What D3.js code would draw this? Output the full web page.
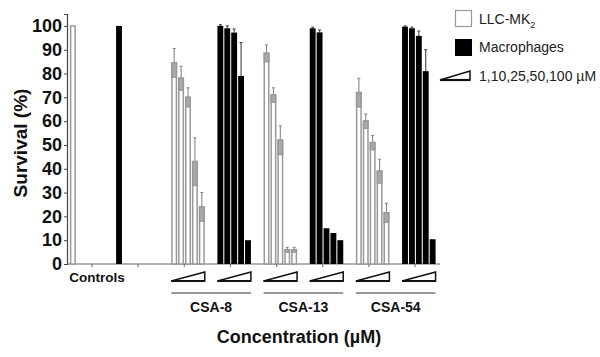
<!DOCTYPE html>
<html>
<head>
<meta charset="utf-8">
<script src="https://cdn.jsdelivr.net/npm/d3@7"></script>
<style>
  body { margin: 0; background: #fff; }
  text { font-family: "Liberation Sans", Arial, sans-serif; }
</style>
</head>
<body>
<div id="chart"></div>
<script>
// groups along the x axis, two cell types per group
const groups = ["Controls", "CSA-8", "CSA-13", "CSA-54"];
const cells = ["LLC-MK2", "Macrophages"];
const concentrations = [1, 10, 25, 50, 100];

// mean survival (%) per concentration, controls have one bar only
const llcMean = [[100], [84.5, 78, 70, 43, 24], [88.5, 71, 52, 6, 6], [72, 60, 51, 39, 21.5]];
const llcErr = [[0], [6, 5, 4, 10, 6], [3.5, 3, 6, 1, 1], [6, 3, 3, 5, 4]];
const macMean = [[100], [100, 99, 97.2, 79, 10], [99, 97.3, 15, 13, 10], [99.7, 99, 95.8, 81, 10.4]];
const macErr = [[0], [0.5, 1, 1.5, 14, 0], [0.5, 1, 0, 0, 0], [0.3, 0.5, 2, 9, 0]];

const yTicks = [0, 10, 20, 30, 40, 50, 60, 70, 80, 90, 100];

const width = 600, height = 357;
const svg = d3.select("#chart").append("svg")
    .attr("width", width)
    .attr("height", height);

// one slot per (group, cell)
let slots = [];
groups.forEach(function (g, gi) {
    slots.push({ key: g + "|llc", group: gi, type: "llc", mean: llcMean[gi], err: llcErr[gi] });
    slots.push({ key: g + "|mac", group: gi, type: "mac", mean: macMean[gi], err: macErr[gi] });
});

let xScale = d3.scaleBand()
    .domain(slots.map(d => d.key))
    .range([67, 440])
    .paddingOuter(0.04);
let sub = d3.scaleBand()
    .domain(d3.range(concentrations.length))
    .range([-13, 20.5])
    .paddingInner(0.15);
let yScale = d3.scaleLinear()
    .domain([0, 105])
    .range([264, 14]);

function center(key) { return xScale(key) + xScale.bandwidth() / 2; }
function barX(s, i) {
    // control bars sit further left under their tick
    return center(s.key) + sub(i) + (s.group === 0 ? -9 : 0);
}

// y axis
let yAxis = svg.append("g")
    .attr("transform", "translate(67,0)")
    .call(d3.axisLeft(yScale).tickValues(yTicks).tickSize(3).tickPadding(2));
yAxis.select(".domain").attr("stroke", "#444").attr("stroke-width", 1.2);
yAxis.selectAll(".tick line").attr("stroke", "#444");
yAxis.selectAll("text")
    .attr("font-size", 18)
    .attr("font-weight", "bold")
    .attr("fill", "#111");

// x axis
let xAxis = svg.append("g")
    .attr("transform", "translate(0,264)")
    .call(d3.axisBottom(xScale).tickSize(3).tickFormat(""));
xAxis.select(".domain").attr("stroke", "#666").attr("stroke-width", 1.2)
    .attr("d", "M67,0H440");
xAxis.selectAll(".tick line").attr("stroke", "#666");

// bars
slots.forEach(function (s) {
    let g = svg.append("g");
    let bars = s.mean.map((m, i) => ({ m: m, e: s.err[i], i: i }));
    let eb = bars.filter(d => d.e > 0);
    let col = s.type === "mac" ? "#444" : "#888";
    g.selectAll("line.err").data(eb).join("line")
        .attr("x1", d => barX(s, d.i) + sub.bandwidth() / 2)
        .attr("x2", d => barX(s, d.i) + sub.bandwidth() / 2)
        .attr("y1", d => yScale(d.m))
        .attr("y2", d => yScale(d.m + d.e))
        .attr("stroke", col).attr("stroke-width", 1.1);
    g.selectAll("line.cap").data(eb).join("line")
        .attr("x1", d => barX(s, d.i) + sub.bandwidth() / 2 - 1.5)
        .attr("x2", d => barX(s, d.i) + sub.bandwidth() / 2 + 1.5)
        .attr("y1", d => yScale(d.m + d.e))
        .attr("y2", d => yScale(d.m + d.e))
        .attr("stroke", col).attr("stroke-width", 1.1);
    if (s.type === "mac") {
        g.selectAll("rect").data(bars).join("rect")
            .attr("x", d => barX(s, d.i))
            .attr("y", d => yScale(d.m))
            .attr("width", sub.bandwidth())
            .attr("height", d => yScale(0) - yScale(d.m))
            .attr("fill", "#000");
    } else {
        g.selectAll("rect.bar").data(bars).join("rect")
            .attr("x", d => barX(s, d.i) + 0.7)
            .attr("y", d => yScale(d.m))
            .attr("width", sub.bandwidth() - 1.4)
            .attr("height", d => yScale(0) - yScale(d.m))
            .attr("fill", "#fff")
            .attr("stroke", "#999").attr("stroke-width", 1.5);
        g.selectAll("rect.box").data(eb).join("rect")
            .attr("x", d => barX(s, d.i) + 0.7)
            .attr("y", d => yScale(d.m))
            .attr("width", sub.bandwidth() - 1.4)
            .attr("height", d => yScale(d.m - d.e) - yScale(d.m))
            .attr("fill", "#aaa")
            .attr("stroke", "#999").attr("stroke-width", 1.5);
    }
});

// concentration wedge
function wedge(x0, x1, yTop, yBot) {
    return "M" + x0 + "," + yBot + "L" + x1 + "," + yTop + "L" + x1 + "," + yBot + "Z";
}
slots.filter(s => s.group > 0).forEach(function (s) {
    let c = center(s.key);
    svg.append("path")
        .attr("d", wedge(c + sub(0), c + sub(4) + sub.bandwidth(), 272, 281))
        .attr("fill", "none")
        .attr("stroke", "#111")
        .attr("stroke-width", 1.5);
    svg.append("line")
        .attr("x1", c + sub(0)).attr("x2", c + sub(4) + sub.bandwidth())
        .attr("y1", 281).attr("y2", 281)
        .attr("stroke", "#111").attr("stroke-width", 2.2);
});

// group labels
svg.append("text")
    .attr("x", (center(slots[0].key) + center(slots[1].key)) / 2 - 18)
    .attr("y", 281.5)
    .attr("text-anchor", "middle")
    .attr("font-size", 13.5)
    .attr("font-weight", "bold")
    .attr("fill", "#111")
    .text(groups[0]);

groups.slice(1).forEach(function (g) {
    let a = center(g + "|llc") + sub(0);
    let b = center(g + "|mac") + sub(4) + sub.bandwidth();
    svg.append("line")
        .attr("x1", a).attr("x2", b)
        .attr("y1", 293).attr("y2", 293)
        .attr("stroke", "#777").attr("stroke-width", 1.5);
    svg.append("text")
        .attr("x", (a + b) / 2)
        .attr("y", 311.5)
        .attr("text-anchor", "middle")
        .attr("font-size", 14)
        .attr("font-weight", "bold")
        .attr("fill", "#111")
        .text(g);
});

// axis titles
svg.append("text")
    .attr("transform", "translate(27,143) rotate(-90)")
    .attr("text-anchor", "middle")
    .attr("font-size", 19)
    .attr("font-weight", "bold")
    .attr("fill", "#111")
    .text("Survival (%)");

svg.append("text")
    .attr("x", 299)
    .attr("y", 343)
    .attr("text-anchor", "middle")
    .attr("font-size", 18)
    .attr("font-weight", "bold")
    .attr("fill", "#111")
    .text("Concentration (µM)");

// legend
let legend = svg.append("g");
legend.append("rect")
    .attr("x", 455.5).attr("y", 10.5).attr("width", 16).attr("height", 16)
    .attr("fill", "#fff").attr("stroke", "#999").attr("stroke-width", 1.2);
let t1 = legend.append("text")
    .attr("x", 479).attr("y", 24)
    .attr("font-size", 14).attr("fill", "#222");
t1.append("tspan").text("LLC-MK");
t1.append("tspan").attr("font-size", 9).attr("dy", 4).text("2");

legend.append("rect")
    .attr("x", 455).attr("y", 39).attr("width", 17).attr("height", 17)
    .attr("fill", "#000");
legend.append("text")
    .attr("x", 479).attr("y", 52)
    .attr("font-size", 14).attr("fill", "#222")
    .text(cells[1]);

legend.append("path")
    .attr("d", wedge(440, 470, 71, 80))
    .attr("fill", "none").attr("stroke", "#111").attr("stroke-width", 1.5);
legend.append("line")
    .attr("x1", 440).attr("x2", 470).attr("y1", 80).attr("y2", 80)
    .attr("stroke", "#111").attr("stroke-width", 2.2);
legend.append("text")
    .attr("x", 479).attr("y", 81)
    .attr("font-size", 14).attr("fill", "#222")
    .text(concentrations.join(",") + " µM");
</script>
</body>
</html>
